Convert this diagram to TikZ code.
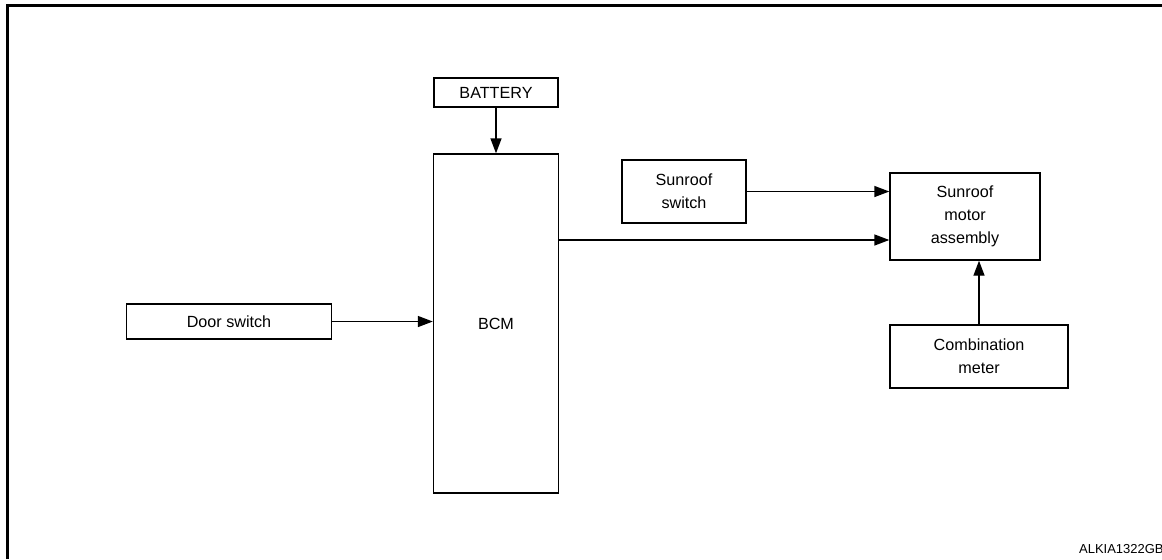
\documentclass[tikz,border=0pt]{standalone}
\usepackage{fontspec}
\setmainfont{Liberation Sans}
\usetikzlibrary{arrows.meta}
\begin{document}
\begin{tikzpicture}[x=0.02cm,y=-0.02cm,
    box/.style={draw,line width=0.8pt,align=center,inner sep=0pt,
      font=\fontsize{9.2}{13}\selectfont},
    arr/.style={line width=0.8pt,-{Triangle[length=0.3cm,width=0.22cm]}}]
        \useasboundingbox (0,0) rectangle (1162,559);

        \draw[line width=1.7pt] (7.5,559) -- (7.5,5.5) -- (1162,5.5);

        \node[box,minimum width=2.48cm,minimum height=0.58cm] (battery) at (496,92.5) {BATTERY};
        \node[box,minimum width=2.5cm,minimum height=6.78cm] (bcm) at (496,323.5) {BCM};
        \node[box,minimum width=4.1cm,minimum height=0.7cm] (door) at (229,321.5) {Door switch};
        \node[box,minimum width=2.48cm,minimum height=1.26cm] (sunsw) at (684,191.5) {Sunroof\\switch};
        \node[box,minimum width=3cm,minimum height=1.74cm] (motor) at (965,216.5) {Sunroof\\motor\\assembly};
        \node[box,minimum width=3.56cm,minimum height=1.26cm] (meter) at (979,356.5) {Combination\\meter};

        \coordinate (bcmout) at ([yshift=-0.47cm]motor.west);

        \draw[arr] (battery) -- (bcm);
        \draw[arr] (door) -- (door -| bcm.west);
        \draw[arr] (sunsw.east) -- (sunsw.east -| motor.west);
        \draw[arr] (bcm.east |- bcmout) -- (bcmout);
        \draw[arr] (meter.north) -- (meter.north |- motor.south);

        \node[anchor=east,font=\fontsize{7.4}{8}\selectfont,inner sep=0pt] (code) at (1164,549) {ALKIA1322GB};
\end{tikzpicture}
\end{document}
